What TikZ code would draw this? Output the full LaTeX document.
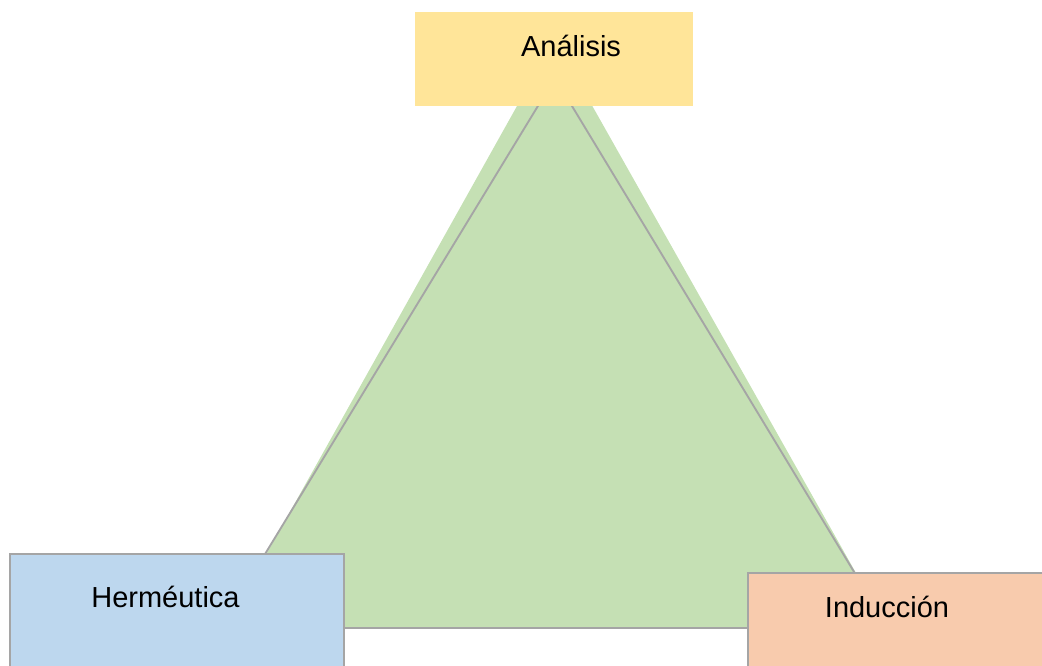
\documentclass[tikz,border=0pt]{standalone}
\usepackage{fontspec}
\setmainfont{Liberation Sans}
\definecolor{triGreen}{HTML}{C5E0B4}
\definecolor{boxYellow}{HTML}{FFE599}
\definecolor{boxBlue}{HTML}{BDD7EE}
\definecolor{boxOrange}{HTML}{F8CBAD}
\definecolor{lineGray}{HTML}{A5A5A5}
\tikzset{
  conn/.style={draw=lineGray, line width=1.4pt},
  boxshape/.style={draw=lineGray, line width=1pt},
  lbl/.style={anchor=base, inner sep=0pt, font=\fontsize{21.75}{26}\selectfont},
}
\begin{document}
\begin{tikzpicture}[x=0.75pt,y=-0.75pt]
\clip (0,0) rectangle (1042,666);
\useasboundingbox (0,0) rectangle (1042,666);
% green triangle
\fill[triGreen] (554.5,39) -- (225,628) -- (887,628) -- cycle;
% gray triangle corners
\coordinate (ta) at (555,78);
\coordinate (tl) at (220,628);
\coordinate (tr) at (888,628);
\draw[conn] (ta) -- (tl);
\draw[conn] (ta) -- (tr);
\draw[conn] (tl) -- (tr);
% boxes
\fill[boxYellow] (415,12) rectangle (693,106);
\filldraw[fill=boxBlue, boxshape] (10,554) rectangle (344,700);
\filldraw[fill=boxOrange, boxshape] (748,573) rectangle (1060,700);
% labels
\node[lbl] (an) at (571,57) {Análisis};
\node[lbl] (he) at (165.5,607) {Herméutica};
\node[lbl] (in) at (887,617) {Inducción};
\end{tikzpicture}
\end{document}
